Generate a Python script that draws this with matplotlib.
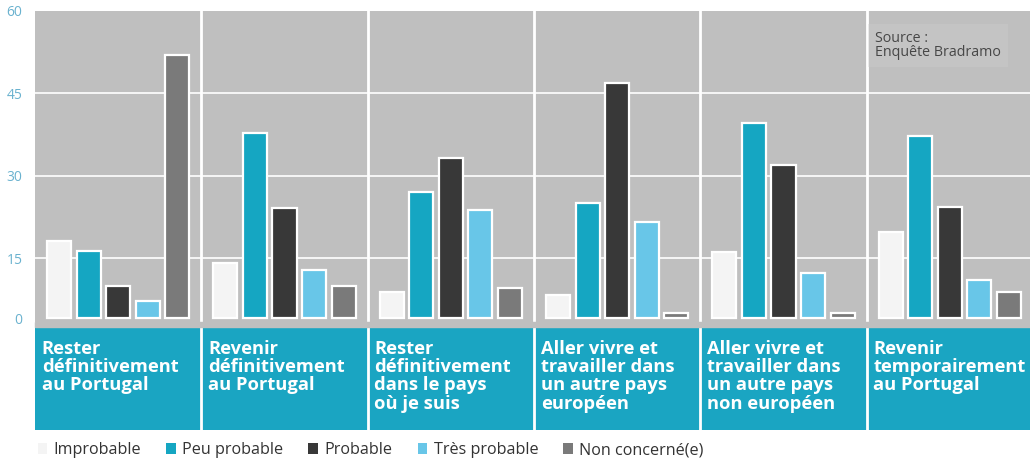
import numpy as np
import matplotlib.pyplot as plt
from matplotlib.patches import Patch

plt.rcParams['font.family'] = ['Open Sans', 'DejaVu Sans']

# groups shown in the teal band
groups = ["Rester\ndéfinitivement\nau Portugal",
          "Revenir\ndéfinitivement\nau Portugal",
          "Rester\ndéfinitivement\ndans le pays\noù je suis",
          "Aller vivre et\ntravailler dans\nun autre pays\neuropéen",
          "Aller vivre et\ntravailler dans\nun autre pays\nnon européen",
          "Revenir\ntemporairement\nau Portugal"]
series = ["Improbable", "Peu probable", "Probable", "Très probable", "Non concerné(e)"]

improbable = [18.1, 14.1, 8.8, 8.3, 16.1, 19.7]
peu_probable = [16.3, 37.7, 27.0, 25.0, 39.5, 37.2]
probable = [9.9, 24.2, 33.2, 46.8, 31.9, 24.3]
tres_probable = [7.2, 12.9, 23.8, 21.5, 12.3, 11.0]
non_concerne = [51.9, 9.9, 9.5, 5.0, 5.0, 8.8]

ytick_vals = [15, 30, 45, 60]
ytick_labels = ["0", "15", "30", "45", "60"]

colors = ['#f4f4f4', '#15a6c2', '#383838', '#68c6e8', '#7a7a7a']
bg = '#bfbfbf'
band = '#1aa5c2'

W, H = 1030, 459
fig = plt.figure(figsize=(W / 100, H / 100), dpi=100)
fig.patch.set_facecolor('white')

# main plot: 0 of the value scale sits below the visible baseline
base = 4.1
ax = fig.add_axes([35 / W, (H - 322) / H, 998 / W, (322 - 10.5) / H])
ax.set_facecolor(bg)
ax.set_xlim(-0.5, len(groups) - 0.5)
ax.set_ylim(3.4, 60)

data = [improbable, peu_probable, probable, tres_probable, non_concerne]
x = np.arange(len(groups))
pitch = 0.178
for i, vals in enumerate(data):
    v = np.array(vals)
    ax.bar(x + (i - 2) * pitch, v - base, bottom=base, width=0.145,
           color=colors[i], edgecolor='white', linewidth=1.6, zorder=3)

for g in ytick_vals[:-1]:
    ax.axhline(g, color='white', lw=1.4, alpha=0.85, zorder=1)
for b in x[:-1] + 0.5:
    ax.axvline(b, color='white', lw=2, zorder=2)

ax.set_yticks([base] + ytick_vals)
ax.set_yticklabels(ytick_labels)
ax.tick_params(axis='y', length=0, pad=9, labelsize=10, labelcolor='#6ab2cf')
ax.set_xticks([])
for s in ax.spines.values():
    s.set_visible(False)

ax.text(0.8415, 0.935, "Source :\nEnquête Bradramo", transform=ax.transAxes,
        fontsize=10.3, color='#474747', va='top', ha='left', linespacing=0.95,
        bbox=dict(boxstyle='square,pad=0.5', fc='#d0d0d0', ec='none', alpha=0.35),
        zorder=4)

# teal band with group names
ax2 = fig.add_axes([35 / W, (H - 430) / H, 998 / W, (430 - 326) / H])
ax2.set_facecolor(band)
ax2.set_xlim(-0.5, len(groups) - 0.5)
ax2.set_ylim(0, 1)
ax2.set_xticks([])
ax2.set_yticks([])
for s in ax2.spines.values():
    s.set_visible(False)
for b in x[:-1] + 0.5:
    ax2.axvline(b, color='white', lw=2)
for i, name in enumerate(groups):
    ax2.text(i - 0.46, 0.87, name, color='white', fontsize=13.2, fontweight='bold',
             va='top', ha='left', linespacing=1.03)

# gray strip between bars and band
fig.patches.append(plt.Rectangle((35 / W, (H - 327) / H), 998 / W, 5 / H,
                                 transform=fig.transFigure, color=bg, zorder=0))

handles = [Patch(facecolor=c, edgecolor='none') for c in colors]
fig.legend(handles, series, loc='lower left', bbox_to_anchor=(23 / W, -0.03),
           ncol=5, frameon=False, fontsize=11.6, handlelength=0.6, handleheight=0.7,
           handletextpad=0.4, columnspacing=1.55, labelcolor='#333333')

fig.savefig('out.png', dpi=100)
